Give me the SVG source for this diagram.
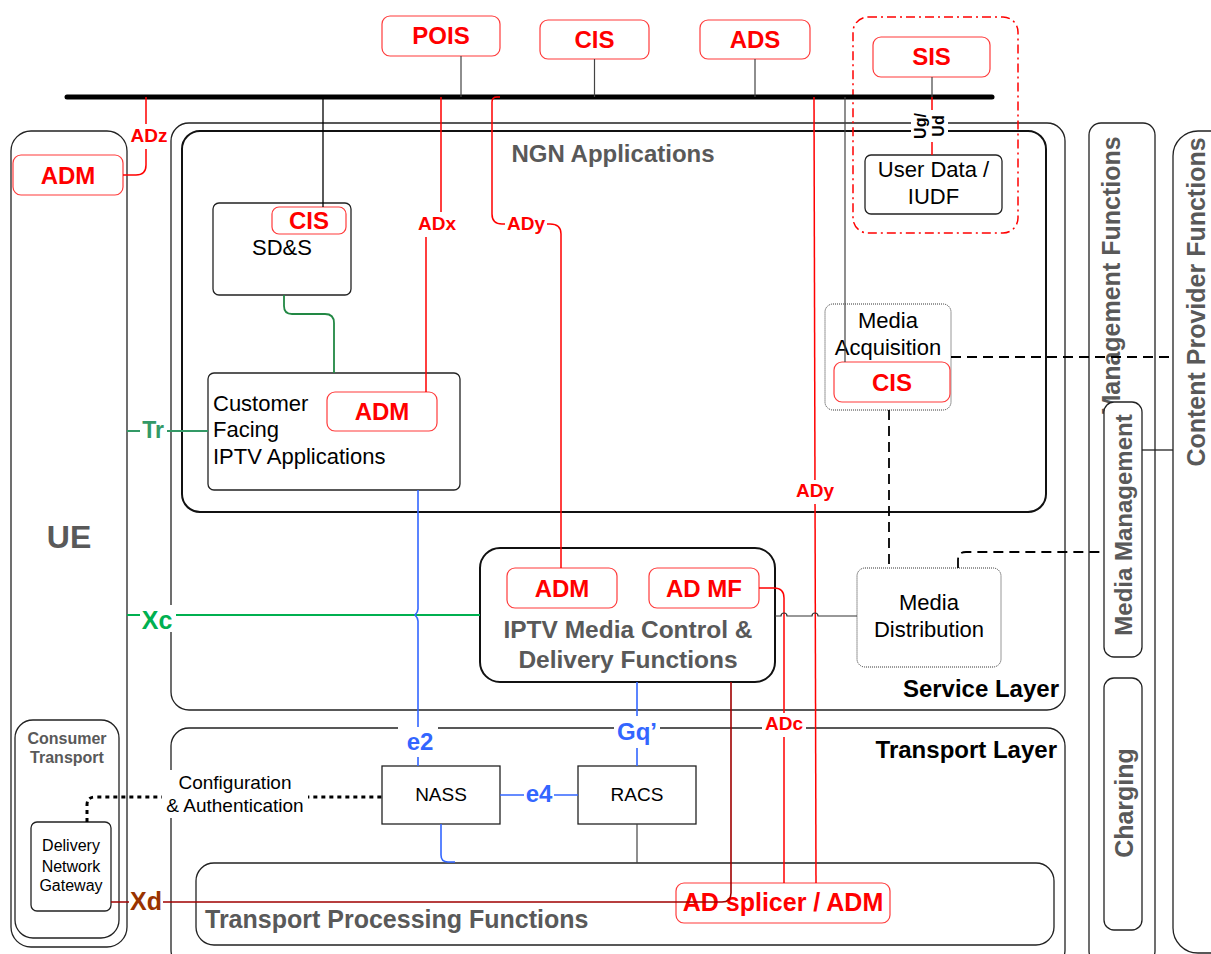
<svg xmlns="http://www.w3.org/2000/svg" width="1211" height="954" viewBox="0 0 1211 954">
<style>
text{font-family:"Liberation Sans",Arial,sans-serif}
.red{fill:#fff;stroke:#ff3b3b;stroke-width:1.2}
.rt{fill:#f00;font-weight:bold;font-size:24px;text-anchor:middle}
.al{fill:#f00;font-weight:bold;font-size:19px;text-anchor:middle}
.box{fill:#fff;stroke:#222;stroke-width:1.3}
.cont{fill:none;stroke:#222;stroke-width:1.3}
.dot{fill:#fff;stroke:#333;stroke-width:1;stroke-dasharray:1 1}
.bt{fill:#000;font-size:22px;text-anchor:middle}
.gt{fill:#595959;font-weight:bold;font-size:24px}
.thin{fill:none;stroke:#444;stroke-width:1.2}
.redl{fill:none;stroke:#f00;stroke-width:1.5}
.blue{fill:none;stroke:#3366ff;stroke-width:1.6}
.bl{fill:#3366ff;font-weight:bold;font-size:24px;text-anchor:middle}
.dash{fill:none;stroke:#000;stroke-width:1.8;stroke-dasharray:10 6}
.bg{fill:#fff;stroke:none}
</style>

<g id="containers">
  <rect id="service-layer" class="cont" x="171" y="123" width="894" height="587" rx="18"/>
  <rect id="ngn-applications" x="182" y="131" width="864" height="381" rx="18" fill="none" stroke="#111" stroke-width="2"/>
  <rect id="transport-layer" class="cont" x="171" y="728" width="894" height="240" rx="18"/>
  <rect id="ue" class="cont" x="11" y="131" width="116" height="816" rx="20" stroke-width="1.8"/>
  <rect id="consumer-transport" class="cont" x="15" y="720" width="104" height="218" rx="18" stroke-width="1.8"/>
  <rect id="management-functions" class="cont" x="1089" y="123" width="66" height="840" rx="12" stroke-width="1.8"/>
  <rect id="content-provider" class="cont" x="1173" y="131" width="70" height="822" rx="25" stroke-width="1.8"/>
  <rect id="sis-group" x="853" y="17" width="165" height="216" rx="15" fill="none" stroke="#f00" stroke-width="1.5" stroke-dasharray="9 4 2 4"/>
  <text x="613" y="162" style="fill:#595959;font-weight:bold;font-size:24px;text-anchor:middle">NGN Applications</text>
  <text x="1059" y="697" style="font-weight:bold;font-size:24px;text-anchor:end">Service Layer</text>
  <text x="1057" y="758" style="font-weight:bold;font-size:24px;text-anchor:end">Transport Layer</text>
  <text class="gt" x="69" y="548" style="font-size:32px;text-anchor:middle">UE</text>
  <text x="67" y="744" style="fill:#595959;font-weight:bold;font-size:16px;text-anchor:middle">Consumer</text>
  <text x="67" y="763" style="fill:#595959;font-weight:bold;font-size:16px;text-anchor:middle">Transport</text>
  <text class="gt" transform="translate(1120,276) rotate(-90)" style="font-size:25px;text-anchor:middle">Management Functions</text>
  <text class="gt" transform="translate(1205,302) rotate(-90)" style="font-size:25px;text-anchor:middle">Content Provider Functions</text>
</g>

<g id="media-management">
  <rect class="box" x="1104" y="402" width="38" height="255" rx="10" stroke-width="1.8"/>
  <text class="gt" transform="translate(1132,525) rotate(-90)" style="font-size:24px;text-anchor:middle">Media Management</text>
</g>
<g id="charging">
  <rect class="box" x="1104" y="678" width="38" height="252" rx="10" stroke-width="1.8"/>
  <text class="gt" transform="translate(1133,803) rotate(-90)" style="font-size:25px;text-anchor:middle">Charging</text>
</g>

<g id="bus"><line x1="67" y1="97" x2="992" y2="97" stroke="#000" stroke-width="5" stroke-linecap="round"/></g>

<g id="pois"><rect class="red" x="382" y="16" width="118" height="40" rx="8"/><text class="rt" x="441" y="44">POIS</text></g>
<g id="cis-top"><rect class="red" x="540" y="20" width="109" height="39" rx="8"/><text class="rt" x="594.5" y="48">CIS</text></g>
<g id="ads"><rect class="red" x="700" y="20" width="110" height="39" rx="8"/><text class="rt" x="755" y="48">ADS</text></g>
<g id="sis"><rect class="red" x="873" y="37" width="117" height="40" rx="8"/><text class="rt" x="931.5" y="65">SIS</text></g>
<g id="user-data"><rect class="box" x="865" y="155" width="137" height="59" rx="6"/><text class="bt" x="933.5" y="177">User Data /</text><text class="bt" x="933.5" y="204">IUDF</text></g>

<g id="adm-ue"><rect class="red" x="13" y="155" width="110" height="40" rx="8"/><text class="rt" x="68" y="184">ADM</text></g>

<g id="sds"><rect class="box" x="213" y="203" width="138" height="92" rx="6"/><text class="bt" x="282" y="255">SD&amp;S</text></g>
<g id="cis-sds"><rect class="red" x="272" y="207" width="74" height="27" rx="7"/><text class="rt" x="309" y="229">CIS</text></g>

<g id="customer-facing"><rect class="box" x="208" y="373" width="252" height="117" rx="6"/>
  <text class="bt" x="213" y="411" style="text-anchor:start">Customer</text>
  <text class="bt" x="213" y="437" style="text-anchor:start">Facing</text>
  <text class="bt" x="213" y="464" style="text-anchor:start">IPTV Applications</text></g>
<g id="adm-cf"><rect class="red" x="327" y="392" width="110" height="39" rx="8"/><text class="rt" x="382" y="420">ADM</text></g>

<g id="media-acquisition"><rect class="dot" x="825" y="304" width="126" height="106" rx="8"/>
  <text class="bt" x="888" y="328">Media</text><text class="bt" x="888" y="355">Acquisition</text></g>
<g id="cis-ma"><rect class="red" x="834" y="362" width="116" height="40" rx="8"/><text class="rt" x="892" y="391">CIS</text></g>

<g id="iptv-mcdf"><rect x="480" y="548" width="295" height="134" rx="20" fill="#fff" stroke="#111" stroke-width="2"/>
  <text class="gt" x="628" y="638" style="text-anchor:middle;font-size:24.5px">IPTV Media Control &amp;</text>
  <text class="gt" x="628" y="668" style="text-anchor:middle;font-size:24.5px">Delivery Functions</text></g>
<g id="adm-iptv"><rect class="red" x="507" y="568" width="110" height="40" rx="8"/><text class="rt" x="562" y="597">ADM</text></g>
<g id="ad-mf"><rect class="red" x="649" y="568" width="110" height="40" rx="8"/><text class="rt" x="704" y="597">AD MF</text></g>

<g id="media-distribution"><rect class="dot" x="857" y="568" width="144" height="99" rx="8"/>
  <text class="bt" x="929" y="610">Media</text><text class="bt" x="929" y="637">Distribution</text></g>

<g id="nass"><rect class="box" x="382" y="766" width="118" height="58"/><text class="bt" x="441" y="801" style="font-size:19px">NASS</text></g>
<g id="racs"><rect class="box" x="578" y="766" width="118" height="58"/><text class="bt" x="637" y="801" style="font-size:19px">RACS</text></g>

<g id="tpf"><rect class="box" x="196" y="863" width="858" height="82" rx="18"/>
  <text class="gt" x="205" y="928" style="font-size:25px">Transport Processing Functions</text></g>
<g id="ad-splicer"><rect class="red" x="676" y="883" width="214" height="40" rx="8"/><text class="rt" x="783" y="911" style="font-size:25px">AD splicer / ADM</text></g>

<g id="dng"><rect class="box" x="31" y="822" width="80" height="89" rx="6"/>
  <text x="71" y="851" style="font-size:16px;text-anchor:middle">Delivery</text>
  <text x="71" y="872" style="font-size:16px;text-anchor:middle">Network</text>
  <text x="71" y="891" style="font-size:16px;text-anchor:middle">Gateway</text></g>

<g id="connectors">
  <path class="thin" d="M461,56V97M594.5,59V97M755,59V97M932,77V97"/>
  <path fill="none" stroke="#000" stroke-width="1.3" d="M323,97V207"/>
  <path class="thin" d="M845,97V362"/>
  <path class="redl" d="M932,97V155"/>
  <path class="redl" d="M146,97V165Q146,175 136,175H123"/>
  <path class="redl" d="M441,97V212M426,237V392"/>
  <path class="redl" d="M500,97H497Q492,97 492,102V214Q492,224 502,224H506M546,224H550Q561,224 561,234V568"/>
  <path class="redl" d="M814,97L816,883"/>
  <path class="redl" d="M759,588H774Q784,588 784,598V883"/>
  <path fill="none" stroke="#a00000" stroke-width="1.6" d="M111,902H722Q731,902 731,893V682"/>
  <path fill="none" stroke="#339966" stroke-width="1.8" d="M127,431H208"/>
  <path fill="none" stroke="#284" stroke-width="1.8" d="M284,295V306Q284,314 292,314H325Q334,314 334,323V373"/>
  <path fill="none" stroke="#00b050" stroke-width="2" d="M127,615H480"/>
  <path class="blue" d="M418,490V609Q418,612 415,615Q418,618 418,621V766"/>
  <path class="blue" d="M637,682V766M500,795H578M441,824V855Q441,862 448,862H455"/>
  <path class="thin" d="M637,824V863"/>
  <path fill="none" stroke="#333" stroke-width="1.2" d="M775,616H781a3,3 0 0 1 6,0H812a3,3 0 0 1 6,0H857"/>
  <path class="dash" d="M951,357H1173M889,410V568M958,568V560Q958,552 966,552H1104"/>
  <path fill="none" stroke="#222" stroke-width="1.3" d="M1142,450H1173"/>
  <path fill="none" stroke="#000" stroke-width="3" stroke-dasharray="4 4" d="M87,822V805Q87,797 95,797H382"/>

  <g id="labels">
    <rect class="bg" x="129" y="124" width="40" height="25"/><text class="al" x="149" y="142">ADz</text>
    <rect class="bg" x="415" y="212" width="44" height="25"/><text class="al" x="437" y="230">ADx</text>
    <rect class="bg" x="505" y="212" width="42" height="25"/><text class="al" x="526" y="230">ADy</text>
    <rect class="bg" x="794" y="480" width="42" height="24"/><text class="al" x="815" y="497">ADy</text>
    <rect class="bg" x="762" y="713" width="44" height="24"/><text class="al" x="784" y="730">ADc</text>
    <rect class="bg" x="911" y="110" width="37" height="32"/>
    <text transform="translate(926,126) rotate(-90)" style="font-weight:bold;font-size:16px;text-anchor:middle">Ug/</text>
    <text transform="translate(944,126) rotate(-90)" style="font-weight:bold;font-size:16px;text-anchor:middle">Ud</text>
    <rect class="bg" x="140" y="420" width="27" height="22"/><text x="153" y="438" style="fill:#339966;font-weight:bold;font-size:23px;text-anchor:middle">Tr</text>
    <rect class="bg" x="140" y="605" width="36" height="27"/><text x="157" y="629" style="fill:#00b050;font-weight:bold;font-size:25px;text-anchor:middle">Xc</text>
    <rect class="bg" x="129" y="890" width="34" height="24"/><text x="146" y="910" style="fill:#993300;font-weight:bold;font-size:25px;text-anchor:middle">Xd</text>
    <rect class="bg" x="398" y="727" width="40" height="30"/><text class="bl" x="420" y="750">e2</text>
    <rect class="bg" x="524" y="783" width="30" height="24"/><text class="bl" x="539" y="802">e4</text>
    <rect class="bg" x="614" y="716" width="46" height="32"/><text class="bl" x="637" y="740">Gq’</text>
    <rect class="bg" x="162" y="770" width="146" height="48"/>
    <text x="235" y="789" style="font-size:19px;text-anchor:middle">Configuration</text>
    <text x="235" y="812" style="font-size:19px;text-anchor:middle">&amp; Authentication</text>
  </g>
</g>
</svg>
